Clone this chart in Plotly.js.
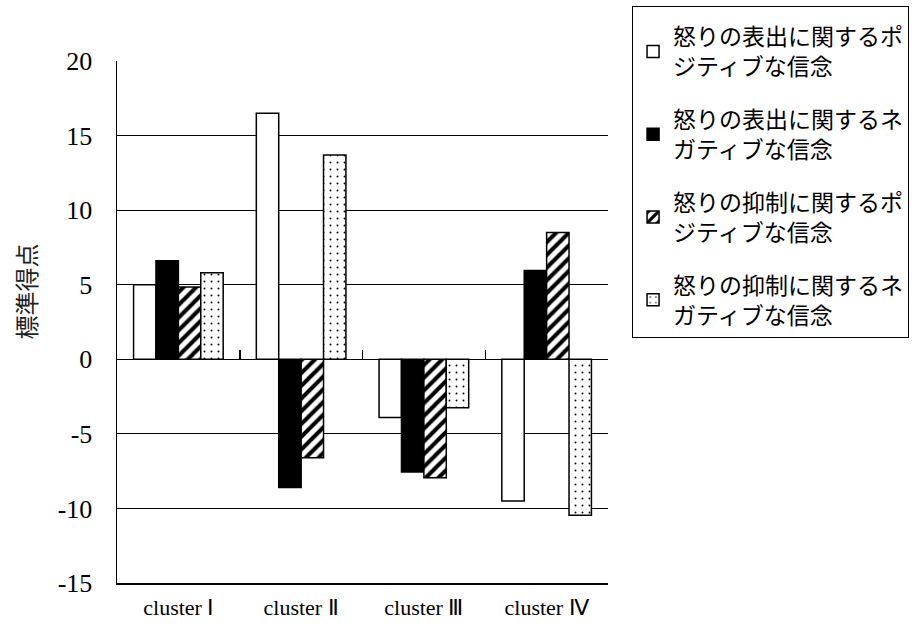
<!DOCTYPE html>
<html>
<head>
<meta charset="utf-8">
<script src="https://cdn.plot.ly/plotly-3.0.1.min.js"></script>
<style>html,body{margin:0;padding:0;background:#fff;}#chart{width:917px;height:634px;}</style>
</head>
<body>
<div id="chart"></div>
<script>
const categories = ["cluster Ⅰ", "cluster Ⅱ", "cluster Ⅲ", "cluster Ⅳ"];
const seriesNames = [
  "怒りの表出に関するポ<br>ジティブな信念",
  "怒りの表出に関するネ<br>ガティブな信念",
  "怒りの抑制に関するポ<br>ジティブな信念",
  "怒りの抑制に関するネ<br>ガティブな信念"
];
const expressPositive = [5.0, 16.5, -3.9, -9.5];
const expressNegative = [6.6, -8.6, -7.55, 5.95];
const suppressPositive = [4.85, -6.6, -7.95, 8.5];
const suppressNegative = [5.8, 13.7, -3.25, -10.45];
const yTicks = [-15, -10, -5, 0, 5, 10, 15, 20];

const serif = "Liberation Serif, Times New Roman, serif";
const jp = "Noto Sans CJK JP, sans-serif";

const styles = [
  {color: "#ffffff", pattern: {shape: ""}},
  {color: "#000000", pattern: {shape: ""}},
  {color: "#ffffff", pattern: {shape: "/", fgcolor: "#000000", bgcolor: "#ffffff", fgopacity: 1, size: 9, solidity: 0.45, fillmode: "overlay"}},
  {color: "#ffffff", pattern: {shape: ".", fgcolor: "#000000", bgcolor: "#ffffff", fgopacity: 1, size: 7, solidity: 0.06, fillmode: "overlay"}}
];
const values = [expressPositive, expressNegative, suppressPositive, suppressNegative];

const traces = values.map((v, i) => ({
  type: "bar",
  x: categories,
  y: v,
  name: seriesNames[i],
  legendgroup: "g" + i,
  marker: {color: styles[i].color, pattern: styles[i].pattern, line: {color: "#000", width: 1.5}},
  hoverinfo: "skip"
}));

// helper trace for the labelled category axis at the bottom
traces.push({
  type: "scatter",
  mode: "markers",
  x: categories,
  y: [0, 0, 0, 0],
  xaxis: "x2",
  yaxis: "y",
  marker: {opacity: 0},
  showlegend: false,
  hoverinfo: "skip"
});

const layout = {
  width: 917,
  height: 634,
  margin: {l: 117, r: 309, t: 61, b: 51, autoexpand: false},
  paper_bgcolor: "#fff",
  plot_bgcolor: "#fff",
  barmode: "group",
  bargap: 0.27,
  bargroupgap: 0,
  showlegend: true,
  legend: {
    x: 1.049, y: 1.105, xanchor: "left", yanchor: "top",
    bordercolor: "#000", borderwidth: 1,
    font: {family: jp, size: 23, color: "#000"},
    title: {text: " ", font: {size: 6}},
    traceorder: "grouped",
    tracegroupgap: 20,
    itemwidth: 30,
    maxheight: 600
  },
  // category axis crossing at y = 0 (boundary ticks only, line comes from the y zero line)
  xaxis: {
    type: "category",
    range: [-0.5, 3.5],
    anchor: "free",
    position: 15 / 35,
    side: "bottom",
    showline: false,
    ticks: "inside", tickson: "boundaries", ticklen: 9, tickwidth: 1.5, tickcolor: "#000",
    showticklabels: false, showgrid: false, zeroline: false
  },
  // labelled axis at the bottom of the plot
  xaxis2: {
    matches: "x",
    overlaying: "x",
    anchor: "y",
    side: "bottom",
    showline: true, linecolor: "#000", linewidth: 1.5,
    ticks: "", showgrid: false, zeroline: false,
    tickfont: {family: serif, size: 22, color: "#000"},
    ticklabelstandoff: 4
  },
  yaxis: {
    range: [-15, 20],
    tickmode: "array",
    tickvals: yTicks,
    ticktext: yTicks.map(String),
    showline: true, linecolor: "#000", linewidth: 1.5,
    showgrid: true, gridcolor: "#000", gridwidth: 1,
    zeroline: true, zerolinecolor: "#000", zerolinewidth: 1.5,
    ticks: "",
    tickfont: {family: serif, size: 26, color: "#000"},
    ticklabelstandoff: 18
  },
  annotations: [{
    text: "標準得点",
    xref: "paper", yref: "paper",
    x: -0.187, y: 0.559,
    xanchor: "center", yanchor: "middle",
    showarrow: false,
    textangle: -90,
    font: {family: jp, size: 24, color: "#222"}
  }]
};

Plotly.newPlot("chart", traces, layout, {displayModeBar: false, staticPlot: true});
</script>
</body>
</html>
